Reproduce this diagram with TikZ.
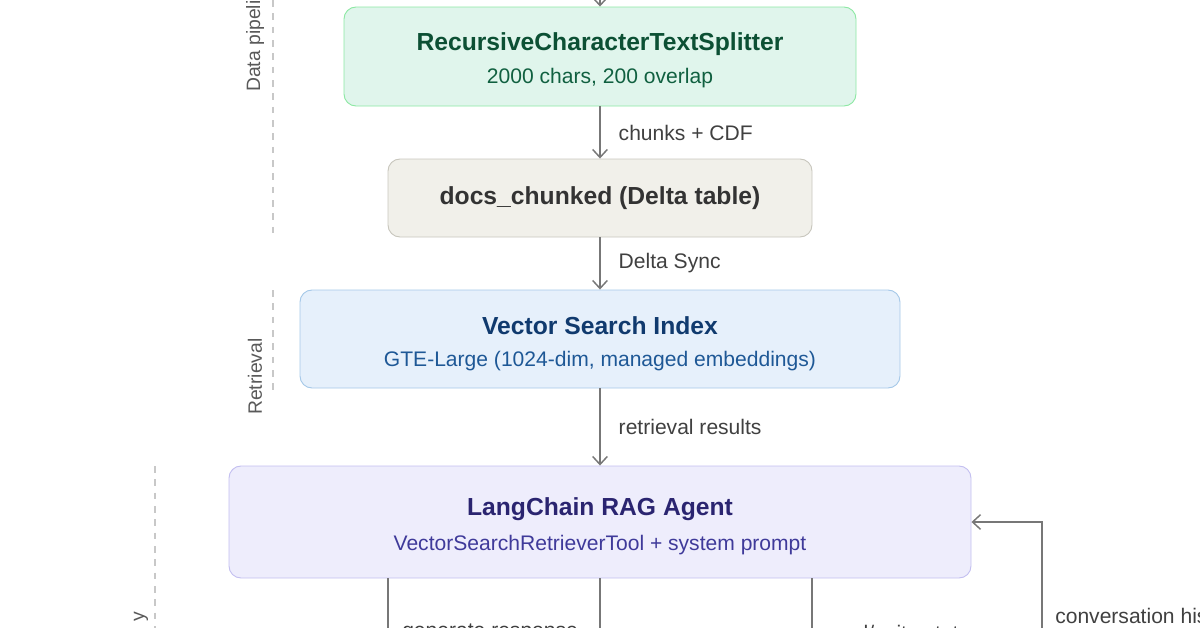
\documentclass[tikz,border=0pt]{standalone}
\usepackage{fontspec}
\setmainfont{Liberation Sans}
\usetikzlibrary{arrows.meta}
\definecolor{ln}{HTML}{777777}
\definecolor{dash}{HTML}{C8C8C8}
\begin{document}
\begin{tikzpicture}[x=0.75pt,y=-0.75pt,
 box/.style={draw,rounded corners=9pt,line width=0.7pt},
 arr/.style={draw=ln,line width=1.1pt,-{Straight Barb[length=6pt,width=11pt]}},
 wire/.style={draw=ln,line width=1.1pt},
 lbl/.style={font=\fontsize{15.8}{18}\selectfont,text=black!75,anchor=west,inner sep=0},
 ttl/.style={font=\fontsize{18.5}{21}\selectfont\bfseries,inner sep=0},
 sub/.style={font=\fontsize{15.8}{18}\selectfont,inner sep=0},
 side/.style={font=\fontsize{14.5}{16}\selectfont,text=black!65,rotate=90,inner sep=0},
 sep/.style={draw=dash,line width=0.8pt,dash pattern=on 5pt off 5pt}]
\useasboundingbox (0,0) rectangle (1200,628);
\clip (0,0) rectangle (1200,628);
% separators
\draw[sep] (273,0) -- (273,237);
\draw[sep] (273,290) -- (273,390);
\draw[sep] (155,466) -- (155,628);
\node[side,anchor=west] (l1) at (255,92) {Data pipeline};
\node[side,anchor=west] (l2) at (255,415) {Retrieval};
\node[side,anchor=east] (l3) at (141,612) {y};
% boxes
\node[box,draw=green!60!teal!45,fill={rgb,255:red,224;green,245;blue,236},minimum width=512*0.75pt,minimum height=99*0.75pt] (b1) at (600,56.5) {};
\node[ttl,text={rgb,255:red,12;green,80;blue,52}] (t1) at (600,44) {RecursiveCharacterTextSplitter};
\node[sub,text={rgb,255:red,16;green,96;blue,64}] (s1) at (600,78) {2000 chars, 200 overlap};
\node[box,draw={rgb,255:red,200;green,198;blue,189},fill={rgb,255:red,241;green,240;blue,234},minimum width=424*0.75pt,minimum height=78*0.75pt] (b2) at (600,198) {};
\node[ttl,text=black!80] (t2) at (600,198) {docs\_chunked (Delta table)};
\node[box,draw={rgb,255:red,165;green,200;blue,232},fill={rgb,255:red,230;green,240;blue,251},minimum width=600*0.75pt,minimum height=98*0.75pt] (b3) at (600,339) {};
\node[ttl,text={rgb,255:red,16;green,58;blue,110}] (t3) at (600,326) {Vector Search Index};
\node[sub,text={rgb,255:red,30;green,88;blue,150}] (s3) at (600,361) {GTE-Large (1024-dim, managed embeddings)};
\node[box,draw={rgb,255:red,195;green,191;blue,240},fill={rgb,255:red,238;green,237;blue,252},minimum width=742*0.75pt,minimum height=112*0.75pt] (b4) at (600,522) {};
\node[ttl,text={rgb,255:red,42;green,36;blue,112}] (t4) at (600,509) {LangChain RAG Agent};
\node[sub,text={rgb,255:red,63;green,58;blue,154}] (s4) at (600,545) {VectorSearchRetrieverTool + system prompt};
% arrows
\coordinate (top) at (600,-5);
\draw[arr] (top) -- (b1.north);
\draw[arr] (b1.south) -- node[lbl,pos=0.5,xshift=18*0.75pt] (a1) {chunks + CDF} (b2.north);
\draw[arr] (b2.south) -- node[lbl,pos=0.5,xshift=18*0.75pt] (a2) {Delta Sync} (b3.north);
\draw[arr] (b3.south) -- node[lbl,pos=0.5,xshift=18*0.75pt] (a3) {retrieval results} (b4.north);
% bottom wires
\coordinate (d1) at (388,640);
\coordinate (d2) at (600,640);
\coordinate (d3) at (812,640);
\draw[wire] (b4.south -| d1) -- (d1);
\draw[wire] (b4.south) -- (d2);
\draw[wire] (b4.south -| d3) -- (d3);
\node[lbl] (g1) at (402,633) {generate response};
\node[lbl] (g2) at (826,633) {read/write state};
\coordinate (c0) at (1042,640);
\coordinate (c1) at (1042,522);
\draw[arr] (c0) -- (c1) -- (b4.east);
\node[lbl] (g3) at (1055,618) {conversation history};
\end{tikzpicture}
\end{document}
